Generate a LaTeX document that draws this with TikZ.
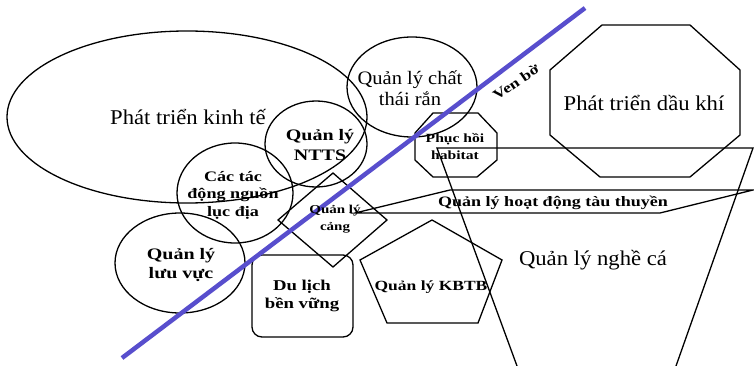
\documentclass[tikz,border=0pt]{standalone}
\usepackage{fontspec}
\setmainfont{Liberation Serif}
\newfontfamily\regw[FakeStretch=1.08]{Liberation Serif}
\newfontfamily\bolw[FakeStretch=1.25]{Liberation Serif Bold}
\usetikzlibrary{shapes.geometric}
\definecolor{shore}{RGB}{88,78,205}
\begin{document}
\begin{tikzpicture}[x=1pt,y=-1pt,
  shp/.style={draw=black,line width=1.3pt,line join=miter},
  oval/.style={shp,ellipse,inner sep=0pt},
  lbl/.style={inner sep=0pt,align=center,text=black},
  rg/.style={lbl,font=\regw\fontsize{#1}{#1}\selectfont},
  bd/.style={lbl,font=\bolw\fontsize{#1}{#1}\selectfont}]
\useasboundingbox (0,0) rectangle (754,366);
% ovals
\node[oval,minimum width=360pt,minimum height=172pt] (econ) at (187,117) {};
\node[oval,minimum width=102pt,minimum height=86pt] (ntts) at (316,144) {};
\node[oval,minimum width=130pt,minimum height=100pt] (waste) at (412,87) {};
\node[oval,minimum width=116pt,minimum height=100pt] (land) at (235,193) {};
\node[oval,minimum width=130pt,minimum height=100pt] (basin) at (180,263) {};
% oil octagon
\draw[shp] (602,25) -- (690,25) -- (740,70) -- (740,135) -- (690,177) -- (600,177) -- (550,135) -- (550,70) -- cycle;
% habitat octagon
\draw[shp] (433,113) -- (478,113) -- (497,133) -- (497,160) -- (477,177) -- (433,177) -- (415,160) -- (415,133) -- cycle;
% fisheries funnel
\coordinate (fbl) at (517,366);
\coordinate (ftl) at (437,148);
\coordinate (ftr) at (753,148);
\coordinate (fbr) at (676,366);
\draw[shp] (fbl) -- (ftl) -- (ftr) -- (fbr);
% boats parallelogram
\draw[shp] (355,213) -- (450,190) -- (753,190) -- (660,213) -- cycle;
% port diamond
\draw[shp] (333,173) -- (387,220) -- (333,267) -- (278,220) -- cycle;
% tourism rounded box
\draw[shp,rounded corners=10pt] (252,255) rectangle (353,337);
% KBTB pentagon
\draw[shp] (432,220) -- (502,260) -- (478,323) -- (387,323) -- (360,260) -- cycle;
% shoreline
\coordinate (s1) at (122,358);
\coordinate (s2) at (585,8);
\draw[shore,line width=4.5pt] (s1) -- (s2);
% labels
\node[rg=21] (econT) at (188,117) {Phát triển kinh tế};
\node[rg=21] (oilT) at (644,103) {Phát triển dầu khí};
\node[rg=21] (fishT) at (593,260) {Quản lý nghề cá};
\node[rg=19,font=\regw\fontsize{19}{21}\selectfont] (wasteT) at (410,88) {Quản lý chất\\thái rắn};
\node[bd=16,font=\bolw\fontsize{16}{20}\selectfont] (nttsT) at (320,145) {Quản lý\\NTTS};
\node[bd=14.5,font=\bolw\fontsize{14.5}{17.5}\selectfont] (landT) at (233,195) {Các tác\\động nguồn\\lục địa};
\node[bd=16,font=\bolw\fontsize{16}{19}\selectfont] (basinT) at (181,265) {Quản lý\\lưu vực};
\node[bd=15,font=\bolw\fontsize{15}{18}\selectfont] (tourT) at (302,296) {Du lịch\\bền vững};
\node[bd=14] (kbtbT) at (431,287) {Quản lý KBTB};
\node[bd=14.4] (boatT) at (553,203) {Quản lý hoạt động tàu thuyền};
\node[bd=12,font=\bolw\fontsize{12}{17}\selectfont] (portT) at (335,219) {Quản lý\\cảng};
\node[bd=12.5,font=\bolw\fontsize{12.5}{17}\selectfont] (habT) at (455,147) {Phục hồi\\habitat};
\node[bd=14,rotate=34] (venT) at (516,82) {Ven bờ};
\end{tikzpicture}
\end{document}
